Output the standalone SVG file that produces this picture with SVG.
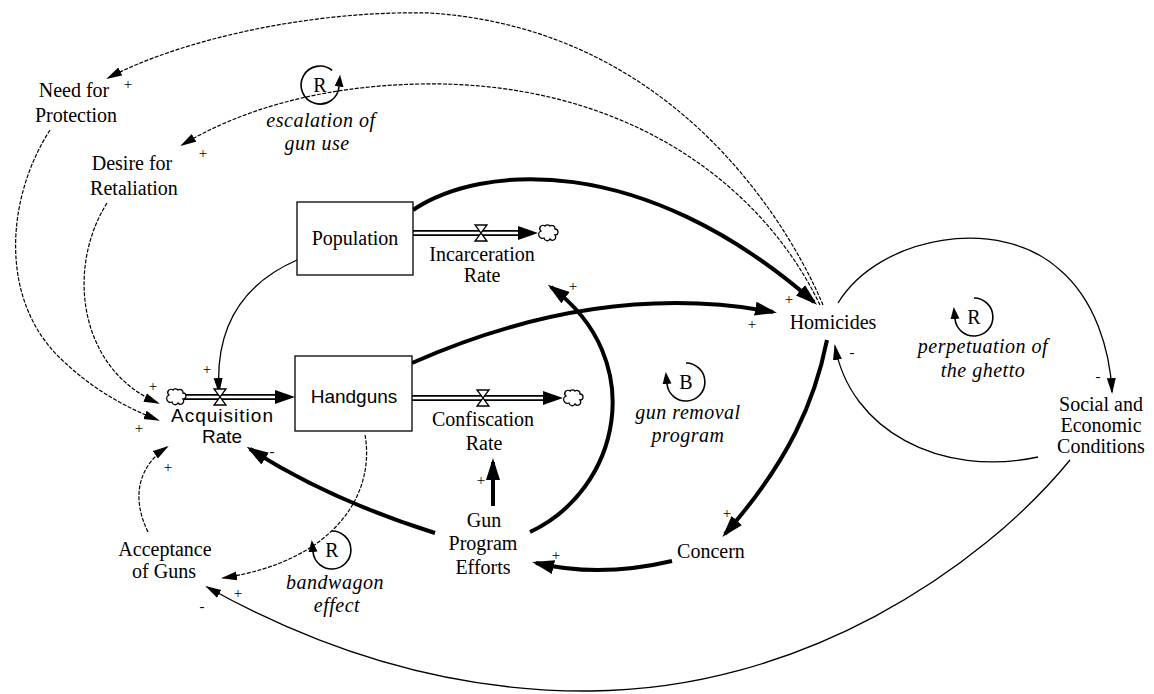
<svg xmlns="http://www.w3.org/2000/svg" xmlns:xlink="http://www.w3.org/1999/xlink" width="1154" height="694" viewBox="0 0 1154 694">
<style>
  .lbl { font-family: 'Liberation Serif', 'DejaVu Serif', 'Times New Roman', serif; font-size: 20px; fill: #000; text-anchor: middle; }
  .sans { font-family: 'Liberation Sans', Arial, sans-serif; font-size: 19px; fill: #000; text-anchor: middle; }
  .loop { font-family: 'Liberation Serif', 'DejaVu Serif', 'Times New Roman', serif; font-size: 20px; font-style: italic; fill: #000; text-anchor: middle; letter-spacing: 0.5px; }
  .sign { font-family: 'Liberation Serif', 'DejaVu Serif', 'Times New Roman', serif; font-size: 15px; fill: #000; text-anchor: middle; }
  .thick { fill: none; stroke: #000; stroke-width: 4; marker-end: url(#ahT); }
  .dash { fill: none; stroke: #000; stroke-width: 1.2; stroke-dasharray: 4 1.5; marker-end: url(#ahS); }
  .thin { fill: none; stroke: #000; stroke-width: 1.3; marker-end: url(#ahS); }
  .larc { fill: none; stroke: #000; stroke-width: 1.6; marker-end: url(#ahL); }
  .pipeO { stroke: #000; stroke-width: 6; }
  .pipeI { stroke: #fff; stroke-width: 2.4; }
  .box { fill: #fff; stroke: #000; stroke-width: 1.3; }
  .valve { fill: #fff; stroke: #000; stroke-width: 1.3; }
  .cloud { fill: #fff; stroke: #000; stroke-width: 1.3; }
</style>
<defs>
  <marker id="ahT" markerUnits="userSpaceOnUse" markerWidth="24" markerHeight="16" refX="18" refY="8" orient="auto">
    <path d="M0,1 L22,8 L0,15 z" fill="#000"/>
  </marker>
  <marker id="ahS" markerUnits="userSpaceOnUse" markerWidth="18" markerHeight="12" refX="14" refY="5" orient="auto">
    <path d="M0,0.5 L16,5 L0,9.5 z" fill="#000"/>
  </marker>
  <marker id="ahL" markerUnits="userSpaceOnUse" markerWidth="14" markerHeight="10" refX="0" refY="4.5" orient="auto">
    <path d="M0,0 L12,4.5 L0,9 z" fill="#000"/>
  </marker>
  <path id="cloudShape" class="cloud" d="M-7,-2 a3.2,3.2 0 0,1 4,-5 a3.2,3.2 0 0,1 5,0 a3.2,3.2 0 0,1 5,3 a3,3 0 0,1 0,6 a3.2,3.2 0 0,1 -5,4 a3.2,3.2 0 0,1 -6,-1 a3,3 0 0,1 -3,-7 z"/>
  <path id="valveShape" class="valve" d="M-6,-8 L6,-8 L-6,8 L6,8 z"/>
  <path id="flowHead" d="M-20,-7 L0,0 L-20,7 z" fill="#000"/>
</defs>

<g id="connectors">
  <path class="thick" d="M413,210 C480,165 640,150 814,302"/>
  <path class="thick" d="M412,363 Q600,280 773,312"/>
  <path class="thick" d="M435,533 Q330,500 250,449"/>
  <path class="thick" d="M530,532 C620,490 650,360 551,287"/>
  <path class="thick" d="M493,506 L493,462"/>
  <path class="thick" d="M672,561 Q600,578 536,563"/>
  <path class="thick" d="M827,340 C815,400 790,460 725,534"/>
  <path class="dash" d="M823,305 C800,250 690,30 430,13 C310,10 180,40 108,78"/>
  <path class="dash" d="M820,305 C760,180 620,80 420,84 C320,86 240,110 182,145"/>
  <path class="dash" d="M50,130 C5,200 0,300 60,358 C90,387 120,405 158,420"/>
  <path class="dash" d="M107,203 C65,270 80,370 158,403"/>
  <path class="dash" d="M365,435 C375,490 340,560 223,578"/>
  <path class="dash" d="M148,532 C130,495 140,465 167,447"/>
  <path class="thin" d="M297,260 C240,285 215,330 219,392"/>
  <path class="thin" d="M838,303 C880,235 1000,215 1060,270 C1095,300 1110,350 1112,392"/>
  <path class="thin" d="M1038,457 C940,478 850,430 835,346"/>
  <path class="thin" d="M1070,460 C980,570 800,690 590,691 C450,692 320,650 207,587"/>
  <text class="sign" x="128" y="89">+</text>
  <text class="sign" x="203" y="158">+</text>
  <text class="sign" x="153" y="391">+</text>
  <text class="sign" x="139" y="433">+</text>
  <text class="sign" x="207" y="374">+</text>
  <text class="sign" x="168" y="472">+</text>
  <text class="sign" x="272" y="456">-</text>
  <text class="sign" x="481" y="485">+</text>
  <text class="sign" x="573" y="291">+</text>
  <text class="sign" x="752" y="329">+</text>
  <text class="sign" x="789" y="304">+</text>
  <text class="sign" x="727" y="518">+</text>
  <text class="sign" x="556" y="560">+</text>
  <text class="sign" x="852" y="357">-</text>
  <text class="sign" x="1098" y="381">-</text>
  <text class="sign" x="238" y="598">+</text>
  <text class="sign" x="202" y="611">-</text>
</g>

<g id="flow-acquisition">
  <line class="pipeO" x1="184" y1="397" x2="280" y2="397"/>
  <line class="pipeI" x1="184" y1="397" x2="282" y2="397"/>
  <use xlink:href="#flowHead" transform="translate(295,397)"/>
  <use xlink:href="#cloudShape" transform="translate(176,397)"/>
  <use xlink:href="#valveShape" transform="translate(220,397)"/>
  <text class="sans" x="222" y="422" textLength="102" lengthAdjust="spacing">Acquisition</text>
  <text class="sans" x="222" y="443">Rate</text>
</g>

<g id="flow-incarceration">
  <line class="pipeO" x1="413" y1="233" x2="522" y2="233"/>
  <line class="pipeI" x1="413" y1="233" x2="524" y2="233"/>
  <use xlink:href="#flowHead" transform="translate(538,233)"/>
  <use xlink:href="#cloudShape" transform="translate(548,233)"/>
  <use xlink:href="#valveShape" transform="translate(481,233)"/>
  <text class="lbl" x="482" y="261">Incarceration</text>
  <text class="lbl" x="482" y="282">Rate</text>
</g>

<g id="flow-confiscation">
  <line class="pipeO" x1="412" y1="398" x2="547" y2="398"/>
  <line class="pipeI" x1="412" y1="398" x2="549" y2="398"/>
  <use xlink:href="#flowHead" transform="translate(563,398)"/>
  <use xlink:href="#cloudShape" transform="translate(573,398)"/>
  <use xlink:href="#valveShape" transform="translate(483,398)"/>
  <text class="lbl" x="483" y="426">Confiscation</text>
  <text class="lbl" x="484" y="450">Rate</text>
</g>

<g id="population">
  <rect class="box" x="297" y="202" width="116" height="73"/>
  <text class="lbl" x="355" y="245">Population</text>
</g>

<g id="handguns">
  <rect class="box" x="295" y="356" width="117" height="75"/>
  <text class="sans" x="354" y="403">Handguns</text>
</g>

<g id="need-for-protection">
  <text class="lbl" x="74" y="97">Need for</text>
  <text class="lbl" x="76" y="122">Protection</text>
</g>

<g id="desire-for-retaliation">
  <text class="lbl" x="132" y="170">Desire for</text>
  <text class="lbl" x="134" y="195">Retaliation</text>
</g>

<g id="homicides">
  <text class="lbl" x="833" y="329">Homicides</text>
</g>

<g id="concern">
  <text class="lbl" x="711" y="558">Concern</text>
</g>

<g id="gun-program-efforts">
  <text class="lbl" x="484" y="527">Gun</text>
  <text class="lbl" x="483" y="550">Program</text>
  <text class="lbl" x="483" y="574">Efforts</text>
</g>

<g id="acceptance-of-guns">
  <text class="lbl" x="165" y="556">Acceptance</text>
  <text class="lbl" x="164" y="578">of Guns</text>
</g>

<g id="social-economic">
  <text class="lbl" x="1101" y="411">Social and</text>
  <text class="lbl" x="1101" y="432">Economic</text>
  <text class="lbl" x="1101" y="453">Conditions</text>
</g>

<g id="loop-escalation">
  <path class="larc" d="M332.2,70.4 A19,19 0 1,0 339,86.7"/>
  <text class="lbl" x="320" y="92">R</text>
  <text class="loop" x="321" y="127">escalation of</text>
  <text class="loop" x="317" y="150">gun use</text>
</g>

<g id="loop-bandwagon">
  <path class="larc" d="M332,531 A19,19 0 1,1 313,552"/>
  <text class="lbl" x="332" y="557">R</text>
  <text class="loop" x="335" y="589">bandwagon</text>
  <text class="loop" x="337" y="612">effect</text>
</g>

<g id="loop-gun-removal">
  <path class="larc" d="M686,363 A19,19 0 1,1 667,384"/>
  <text class="lbl" x="686" y="389">B</text>
  <text class="loop" x="688" y="419">gun removal</text>
  <text class="loop" x="688" y="442">program</text>
</g>

<g id="loop-ghetto">
  <path class="larc" d="M974,298 A19,19 0 1,1 955,319"/>
  <text class="lbl" x="974" y="324">R</text>
  <text class="loop" x="983" y="353">perpetuation of</text>
  <text class="loop" x="983" y="377">the ghetto</text>
</g>
</svg>
